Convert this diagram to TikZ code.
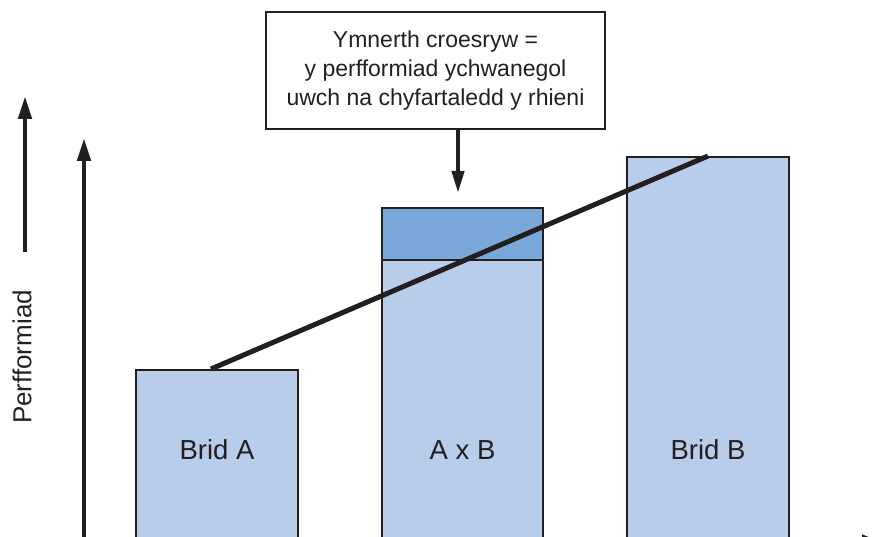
\documentclass[tikz,border=0pt]{standalone}
\usepackage{fontspec}
\setmainfont{Liberation Sans}
\usetikzlibrary{arrows.meta}
\definecolor{barlight}{HTML}{B8CDE9}
\definecolor{bardark}{HTML}{7AA8D8}
\definecolor{ink}{HTML}{231F20}
\tikzset{
  barbox/.style={draw=ink, line width=2pt, inner sep=0pt, minimum width=162pt},
  lbl/.style={font=\fontsize{27.5}{32}\selectfont, text=ink},
  axisarrow/.style={draw=ink, line width=4.6pt, -{Triangle[length=23pt,width=13pt]}},
  thickline/.style={draw=ink, line width=5pt},
}
\begin{document}
\begin{tikzpicture}[x=1pt,y=-1pt]
\useasboundingbox (0,0) rectangle (878,537);
\clip (0,0) rectangle (878,537);
% bars
\node[barbox, fill=barlight, minimum height=180pt] (barA) at (217,460) {};
\node[barbox, fill=barlight, minimum width=161pt, minimum height=290pt] (abL) at (462.5,405) {};
\node[barbox, fill=bardark, minimum width=161pt, minimum height=52pt] (abD) at (462.5,234) {};
\node[barbox, fill=barlight, minimum height=393pt] (barB) at (708,353.5) {};
% labels
\node[lbl] (lA) at (217,450) {Brid A};
\node[lbl] (lAB) at (462.5,450) {A x B};
\node[lbl] (lB) at (708,450) {Brid B};
% diagonal line
\draw[thickline] ([xshift=-6pt]barA.north) -- (barB.north);
% callout box
\node[draw=ink, line width=2pt, fill=white, minimum width=339pt, minimum height=117pt,
      align=center, font=\fontsize{23}{29}\selectfont, text=ink] (box) at (435.5,70.5)
  {Ymnerth croesryw =\\ y perfformiad ychwanegol\\ uwch na chyfartaledd y rhieni};
\coordinate (arrX) at (458,0);
\coordinate (arrT) at (458,193);
\draw[axisarrow, line width=4.2pt, -{Triangle[length=22pt,width=12pt]}] (box.south -| arrX) -- (arrT);
% axes
\coordinate (yB) at (84,545);
\coordinate (yT) at (84,138);
\draw[axisarrow] (yB) -- (yT);
\coordinate (xB) at (84,544);
\coordinate (xT) at (886,544);
\draw[axisarrow, -{Triangle[length=24pt,width=18pt]}] (xB) -- (xT);
% performance label arrow
\coordinate (pB) at (25,252);
\coordinate (pT) at (25,96);
\draw[axisarrow] (pB) -- (pT);
\node[lbl, rotate=90, font=\fontsize{26}{30}\selectfont] (perf) at (22,357) {Perfformiad};
\end{tikzpicture}
\end{document}
